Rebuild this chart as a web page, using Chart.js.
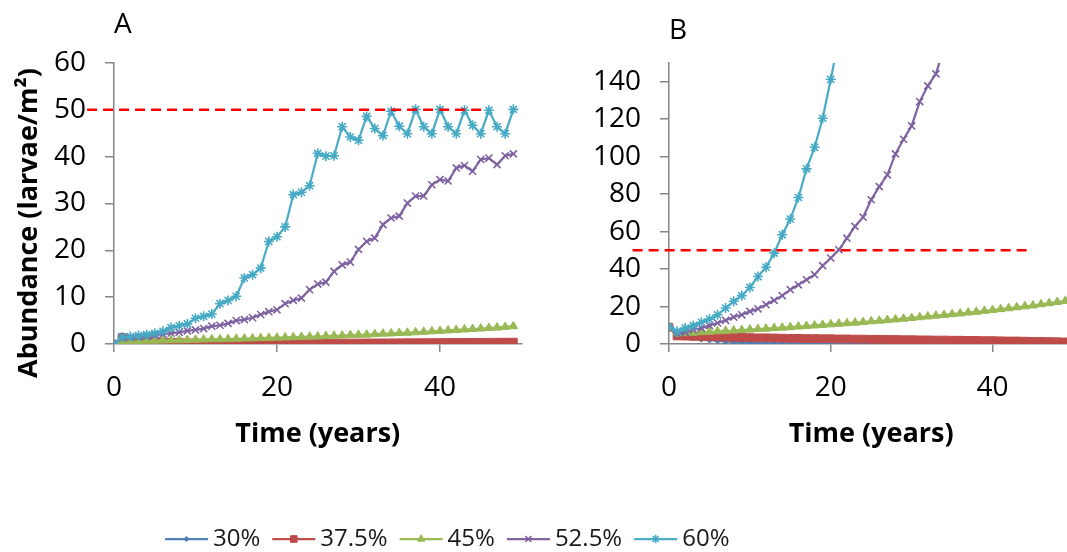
<!DOCTYPE html>
<html>
<head>
<meta charset="utf-8">
<script src="https://cdn.jsdelivr.net/npm/chart.js@4.4.1/dist/chart.umd.min.js"></script>
<style>
  html, body { margin: 0; padding: 0; background: #fff; overflow: hidden; }
  body { width: 1067px; height: 552px; position: relative; }
  canvas { position: absolute; display: block; }
  #chartA { left: 0; top: 0; }
  #chartB { left: 560px; top: 0; }
  #legend { left: 0; top: 510px; }
</style>
</head>
<body>
<canvas id="chartA" width="530" height="470"></canvas>
<canvas id="chartB" width="520" height="470"></canvas>
<canvas id="legend" width="1067" height="42"></canvas>
<script>
// time axis (years)
const years = [0, 1, 2, 3, 4, 5, 6, 7, 8, 9, 10, 11, 12, 13, 14, 15, 16, 17, 18, 19,
  20, 21, 22, 23, 24, 25, 26, 27, 28, 29, 30, 31, 32, 33, 34, 35, 36, 37, 38, 39,
  40, 41, 42, 43, 44, 45, 46, 47, 48, 49];

const seriesNames = ['30%', '37.5%', '45%', '52.5%', '60%'];

// panel A: abundance (larvae/m²)
const a30 = [0, 1.0, 0.6, 0.4, 0.3, 0.2, 0.15, 0.12, 0.1, 0.08, 0.07, 0.06, 0.05, 0.05, 0.04, 0.04, 0.03, 0.03, 0.03, 0.02,
  0.02, 0.02, 0.02, 0.02, 0.01, 0.01, 0.01, 0.01, 0.01, 0.01, 0.01, 0.01, 0.01, 0.01, 0.01, 0.01, 0.01, 0.01, 0.01, 0.01,
  0.01, 0.01, 0.01, 0.01, 0.01, 0.01, 0.01, 0.01, 0.01, 0.01];
const a375 = [0, 1.4, 1.0, 0.8, 0.6, 0.5, 0.4, 0.35, 0.3, 0.25, 0.22, 0.2, 0.18, 0.16, 0.15, 0.14, 0.13, 0.13, 0.13, 0.13,
  0.13, 0.14, 0.14, 0.15, 0.15, 0.16, 0.17, 0.18, 0.19, 0.2, 0.21, 0.22, 0.23, 0.24, 0.25, 0.26, 0.27, 0.28, 0.29, 0.3,
  0.31, 0.32, 0.33, 0.34, 0.35, 0.36, 0.37, 0.38, 0.39, 0.4];
const a45 = [0, 0.6, 0.6, 0.65, 0.7, 0.7, 0.75, 0.8, 0.8, 0.85, 0.9, 0.95, 1.0, 1.0, 1.05, 1.1, 1.15, 1.2, 1.25, 1.3,
  1.35, 1.4, 1.45, 1.5, 1.55, 1.6, 1.7, 1.75, 1.8, 1.9, 1.95, 2.0, 2.1, 2.2, 2.25, 2.35, 2.4, 2.5, 2.6, 2.7,
  2.8, 2.9, 3.0, 3.1, 3.2, 3.3, 3.4, 3.5, 3.65, 3.8];
const a525 = [0, 1.3, 1.4, 1.5, 1.7, 1.9, 2.1, 2.3, 2.5, 2.8, 3.0, 3.3, 3.8, 4.0, 4.4, 5.0, 5.2, 5.6, 6.3, 6.9,
  7.3, 8.6, 9.3, 9.8, 11.6, 12.8, 13.2, 15.5, 16.9, 17.5, 20.2, 21.9, 22.6, 25.5, 26.9, 27.3, 30.1, 31.6, 31.6, 34.0,
  35.1, 34.8, 37.6, 38.1, 36.9, 39.4, 39.7, 38.3, 40.2, 40.6];
const a60 = [0, 1.5, 1.6, 1.8, 2.0, 2.3, 2.7, 3.5, 3.9, 4.3, 5.5, 5.9, 6.4, 8.6, 9.3, 10.2, 14.1, 14.8, 16.2, 21.9,
  22.9, 25.0, 31.9, 32.4, 33.8, 40.7, 40.1, 40.2, 46.4, 44.2, 43.5, 48.6, 46.0, 44.5, 49.7, 46.5, 44.9, 50.1, 46.4, 44.9,
  50.1, 46.4, 44.9, 49.9, 46.7, 44.9, 49.9, 46.4, 44.9, 50.1];

// panel B: abundance (larvae/m²), the two fastest series leave the plot
const b30 = [9, 4.5, 3.8, 3.2, 2.6, 2.1, 1.7, 1.4, 1.1, 0.9, 0.7, 0.55, 0.45, 0.35, 0.3, 0.25, 0.2, 0.18, 0.15, 0.12,
  0.1, 0.09, 0.08, 0.07, 0.06, 0.05, 0.05, 0.04, 0.04, 0.03, 0.03, 0.03, 0.02, 0.02, 0.02, 0.02, 0.02, 0.01, 0.01, 0.01,
  0.01, 0.01, 0.01, 0.01, 0.01, 0.01, 0.01, 0.01, 0.01, 0.01];
const b375 = [9, 4.3, 4.2, 4.1, 4.0, 3.9, 3.8, 3.7, 3.6, 3.5, 3.4, 3.3, 3.3, 3.2, 3.1, 3.0, 3.0, 2.9, 2.9, 2.8,
  2.8, 2.7, 2.7, 2.6, 2.6, 2.5, 2.5, 2.4, 2.4, 2.3, 2.3, 2.2, 2.2, 2.1, 2.1, 2.0, 2.0, 1.9, 1.9, 1.8,
  1.8, 1.7, 1.6, 1.6, 1.5, 1.4, 1.4, 1.3, 1.2, 1.1];
const b45 = [9, 5.5, 5.8, 6.0, 6.3, 6.5, 6.8, 7.0, 7.2, 7.5, 7.7, 8.0, 8.2, 8.5, 8.7, 9.0, 9.3, 9.6, 9.9, 10.2,
  10.5, 10.8, 11.1, 11.4, 11.7, 12.1, 12.4, 12.8, 13.1, 13.5, 13.9, 14.3, 14.7, 15.1, 15.5, 15.9, 16.3, 16.8, 17.2, 17.7,
  18.1, 18.6, 19.1, 19.6, 20.1, 20.6, 21.2, 21.8, 22.4, 23.0];
const b525 = [9, 5.5, 6.2, 7.6, 8.5, 9.8, 11.2, 12.6, 14.4, 15.6, 17.4, 18.8, 21.0, 23.3, 25.8, 29.0, 31.6, 34.3, 37.0, 41.8,
  45.9, 50.3, 56.5, 62.8, 67.7, 77.0, 84.0, 90.3, 101.5, 109.3, 116.4, 129.4, 137.8, 144.2, 158, 172];
const b60 = [9, 6.8, 8.5, 9.8, 11.6, 13.3, 15.6, 19.2, 22.8, 25.8, 30.2, 36.0, 41.0, 48.5, 58.3, 66.7, 78.2, 93.5, 105.0, 120.5,
  141.3, 163, 188];

// tick labels
const xTicks = [0, 20, 40];
const yTicksA = [0, 10, 20, 30, 40, 50, 60];
const yTicksB = [0, 20, 40, 60, 80, 100, 120, 140];

// 50 larvae/m² threshold, drawn between these years
const thresholdY = 50;
const thresholdXA = [-3.3, 45.3];
const thresholdXB = [-4.5, 44.8];

const lineColors = ['#4F81BD', '#C0504D', '#9BBB59', '#8064A2', '#4BACC6'];
const markerColors = ['#4A7EBB', '#BE4B48', '#98B954', '#7D60A0', '#46AAC5'];
const markerStyles = ['rectRot', 'rect', 'triangle', 'crossRot', 'star'];
const markerRadius = [3, 5.5, 5, 5, 5];
const markerBorder = [1, 1, 1, 1.6, 1.6];

const FONT = "'Open Sans', sans-serif";
const axisGray = '#868686';
Chart.defaults.font.family = FONT;
Chart.defaults.color = '#000';

// rotated axis title placed freely at the left edge
const sideTitle = {
  id: 'sideTitle',
  afterDraw(chart, args, opts) {
    if (!opts.text) return;
    const ctx = chart.ctx;
    ctx.save();
    ctx.translate(opts.x, opts.y);
    ctx.rotate(-Math.PI / 2);
    ctx.font = opts.font;
    ctx.fillStyle = '#000';
    ctx.textAlign = 'center';
    ctx.textBaseline = 'middle';
    ctx.fillText(opts.text, 0, 0);
    ctx.restore();
  }
};

function makeChart(id, values, yMax, yTicks, thresholdX, cfg) {
  const datasets = values.map((vals, i) => ({
    label: seriesNames[i],
    data: vals.map((v, k) => ({ x: years[k], y: v })),
    borderColor: lineColors[i],
    backgroundColor: markerColors[i],
    borderWidth: 2.25,
    pointStyle: markerStyles[i],
    pointRadius: markerRadius[i],
    pointBorderWidth: markerBorder[i],
    pointBackgroundColor: markerColors[i],
    pointBorderColor: markerColors[i],
    tension: 0,
    order: 5 - i
  }));
  datasets.push({
    label: 'threshold',
    data: thresholdX.map(x => ({ x: x, y: thresholdY })),
    borderColor: '#FF0000',
    borderWidth: 2.5,
    borderDash: [10, 6],
    pointRadius: 0,
    clip: false,
    order: 0
  });

  return new Chart(document.getElementById(id), {
    type: 'line',
    data: { datasets },
    plugins: [sideTitle],
    options: {
      responsive: false,
      animation: false,
      events: [],
      layout: { padding: { left: 0, right: cfg.padRight, top: 0, bottom: 0 } },
      plugins: {
        legend: { display: false },
        tooltip: { enabled: false },
        title: {
          display: true,
          text: cfg.title,
          align: 'start',
          fullSize: false,
          color: '#000',
          font: { size: 28, weight: 'normal' },
          padding: cfg.titlePad
        },
        sideTitle: cfg.sideTitle || {}
      },
      scales: {
        x: {
          type: 'linear',
          min: 0,
          max: 50,
          afterBuildTicks: ax => { ax.ticks = xTicks.map(v => ({ value: v })); },
          afterFit: ax => { ax.height = 126; },
          grid: { display: true, drawOnChartArea: false, drawTicks: true, tickLength: 8, color: axisGray, lineWidth: 1.5 },
          border: { display: true, color: axisGray, width: 1.5 },
          ticks: { font: { size: 28 }, color: '#000', padding: 19, maxRotation: 0 },
          title: {
            display: true,
            text: 'Time (years)',
            color: '#000',
            font: { size: 27, weight: 'bold' },
            padding: { top: 0, bottom: 19 }
          }
        },
        y: {
          min: 0,
          max: yMax,
          afterBuildTicks: ax => { ax.ticks = yTicks.map(v => ({ value: v })); },
          afterFit: ax => { ax.width = cfg.axisWidth; },
          grid: { display: true, drawOnChartArea: false, drawTicks: true, tickLength: 9, color: axisGray, lineWidth: 1.5 },
          border: { display: true, color: axisGray, width: 1.5 },
          ticks: { font: { size: 28 }, color: '#000', padding: 19 }
        }
      }
    }
  });
}

makeChart('chartA', [a30, a375, a45, a525, a60], 60, yTicksA, thresholdXA, {
  title: 'A',
  titlePad: { top: 8, bottom: 21.4 },
  axisWidth: 114,
  padRight: 8.5,
  sideTitle: { text: 'Abundance (larvae/m²)', x: 29, y: 223, font: "bold 27px 'Open Sans', sans-serif" }
});

makeChart('chartB', [b30, b375, b45, b525, b60], 150, yTicksB, thresholdXB, {
  title: 'B',
  titlePad: { top: 14, bottom: 15.4 },
  axisWidth: 109,
  padRight: 6
});

// shared legend: line with marker, then the series name
(function drawLegend() {
  const ctx = document.getElementById('legend').getContext('2d');
  const y = 29;
  let x = 165;
  ctx.font = "24px " + FONT;
  ctx.textBaseline = 'middle';
  seriesNames.forEach((name, i) => {
    ctx.strokeStyle = lineColors[i];
    ctx.lineWidth = 2.25;
    ctx.beginPath();
    ctx.moveTo(x, y);
    ctx.lineTo(x + 43, y);
    ctx.stroke();
    ctx.fillStyle = markerColors[i];
    ctx.strokeStyle = markerColors[i];
    ctx.lineWidth = markerBorder[i];
    Chart.helpers.drawPoint(ctx, {
      pointStyle: markerStyles[i], radius: markerRadius[i] * 0.85, borderWidth: markerBorder[i], rotation: 0
    }, x + 21.5, y);
    ctx.fillStyle = '#1a1a1a';
    ctx.fillText(name, x + 48, y);
    x += 48 + ctx.measureText(name).width + 12;
  });
})();
</script>
</body>
</html>
